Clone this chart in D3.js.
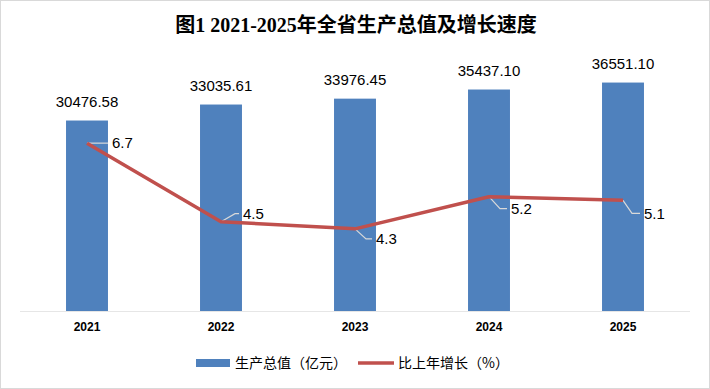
<!DOCTYPE html>
<html><head><meta charset="utf-8">
<script src="https://cdn.jsdelivr.net/npm/d3@7/dist/d3.min.js"></script>
<style>body{margin:0;background:#fff}svg{display:block}</style>
</head><body>
<script>
const years = ["2021","2022","2023","2024","2025"];
const gdp = [30476.58, 33035.61, 33976.45, 35437.10, 36551.10];
const growth = [6.7, 4.5, 4.3, 5.2, 5.1];
const gdpLabels = ["30476.58","33035.61","33976.45","35437.10","36551.10"];
const growthLabels = ["6.7","4.5","4.3","5.2","5.1"];
const legendNames = ["生产总值（亿元）","比上年增长（%）"];
const title = "图1 2021-2025年全省生产总值及增长速度";

const W=710,H=389;
const svg=d3.select("body").append("svg").attr("width",W).attr("height",H);
svg.append("rect").attr("x",0.5).attr("y",0.5).attr("width",W-1).attr("height",H-1)
  .attr("fill","#fff").attr("stroke","#d9d9d9");

const x=d3.scaleBand().domain(years).range([20,690]).paddingInner(0.687).paddingOuter(0.3435);
const y=d3.scaleLinear().domain([0,40000]).range([311,61]);
const y2=d3.scaleLinear().domain([2,9]).range([311,61]);
const cx=d=>x(d)+x.bandwidth()/2;

svg.append("text").attr("x",356).attr("y",32).attr("text-anchor","middle")
  .attr("font-family","'Liberation Serif','Noto Sans CJK SC'").attr("font-weight","bold")
  .attr("font-size",20).attr("fill","#000").text(title);

svg.selectAll(".bar").data(gdp).enter().append("rect")
  .attr("x",(d,i)=>x(years[i])).attr("width",x.bandwidth())
  .attr("y",d=>y(d)).attr("height",d=>y(0)-y(d)).attr("fill","#4F81BD");

svg.append("line").attr("x1",20).attr("x2",690).attr("y1",311.5).attr("y2",311.5)
  .attr("stroke","#e6e6e6");

svg.selectAll(".bl").data(gdp).enter().append("text")
  .attr("x",(d,i)=>cx(years[i])).attr("y",d=>y(d)-14).attr("text-anchor","middle")
  .attr("font-family","'Liberation Sans','Noto Sans CJK SC'").attr("font-size",15).attr("fill","#000")
  .text((d,i)=>gdpLabels[i]);

const xa=d3.axisBottom(x).tickSize(0).tickPadding(0);
const g=svg.append("g").attr("transform","translate(0,322)").call(xa);
g.select(".domain").remove();
g.selectAll("text").attr("font-family","'Liberation Sans'").attr("font-size",12)
  .attr("font-weight","bold").attr("fill","#000").attr("dy","0.71em");

// leader offsets per point [dx1,dy1,dx2] : diag then horizontal
const leaders=[[0,0,21],[14,-8,4],[11,10,6],[11,12,7],[9,13,8]];
growth.forEach((d,i)=>{
  const px=cx(years[i]), py=y2(d), L=leaders[i];
  const p=[[px,py],[px+L[0],py+L[1]],[px+L[0]+L[2],py+L[1]]];
  svg.append("path").attr("d",d3.line()(p)).attr("fill","none").attr("stroke","#d9d9d9").attr("stroke-width",1.2);
  svg.append("text").attr("x",px+L[0]+L[2]+4).attr("y",py+L[1]).attr("dy","0.35em")
    .attr("font-family","'Liberation Sans'").attr("font-size",15).attr("fill","#000").text(growthLabels[i]);
});

svg.append("path").datum(growth)
  .attr("d",d3.line().x((d,i)=>cx(years[i])).y(d=>y2(d)))
  .attr("fill","none").attr("stroke","#C0504D").attr("stroke-width",3.5).attr("stroke-linejoin","round");

// legend
svg.append("rect").attr("x",196).attr("y",359).attr("width",34).attr("height",8).attr("fill","#4F81BD");
svg.append("text").attr("x",235).attr("y",363).attr("dy","0.35em").attr("font-family","'Noto Sans CJK SC'")
  .attr("font-size",14).attr("fill","#000").text(legendNames[0]);
svg.append("line").attr("x1",358).attr("x2",394).attr("y1",363).attr("y2",363).attr("stroke","#C0504D").attr("stroke-width",3.5);
svg.append("text").attr("x",398).attr("y",363).attr("dy","0.35em").attr("font-family","'Noto Sans CJK SC'")
  .attr("font-size",14).attr("fill","#000").text(legendNames[1]);
</script>
</body></html>
